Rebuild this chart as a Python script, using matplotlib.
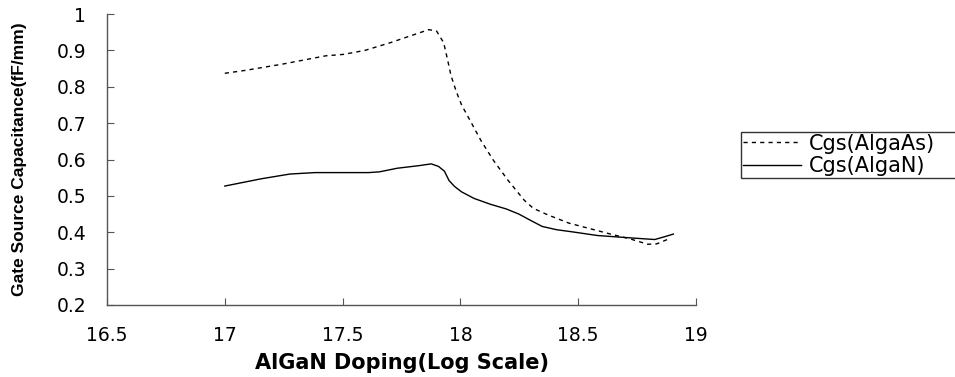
import matplotlib
matplotlib.use('Agg')
import matplotlib.pyplot as plt

# values
x_algaas = [17.0, 17.087, 17.243, 17.428, 17.504, 17.595, 17.702, 17.793, 17.866, 17.899,
            17.929, 17.945, 17.96, 17.983, 18.005, 18.043, 18.089, 18.142, 18.203, 18.271,
            18.309, 18.37, 18.461, 18.567, 18.643, 18.719, 18.795, 18.833, 18.878]
cgs_algaas = [0.837, 0.845, 0.862, 0.885, 0.889, 0.900, 0.921, 0.941, 0.957, 0.953,
              0.921, 0.876, 0.831, 0.786, 0.750, 0.705, 0.650, 0.596, 0.542, 0.488,
              0.466, 0.448, 0.425, 0.407, 0.394, 0.382, 0.367, 0.368, 0.380]

x_algan = [17.0, 17.155, 17.276, 17.383, 17.61, 17.656, 17.732, 17.823, 17.876, 17.907,
           17.932, 17.952, 17.975, 18.005, 18.058, 18.127, 18.195, 18.248, 18.294, 18.347,
           18.408, 18.476, 18.582, 18.734, 18.825, 18.863, 18.904]
cgs_algan = [0.527, 0.547, 0.560, 0.564, 0.564, 0.566, 0.576, 0.583, 0.588, 0.581,
             0.568, 0.542, 0.526, 0.511, 0.493, 0.477, 0.464, 0.450, 0.434, 0.416,
             0.407, 0.401, 0.391, 0.384, 0.380, 0.387, 0.395]

xticks = [16.5, 17, 17.5, 18, 18.5, 19]
xtick_labels = ['16.5', '17', '17.5', '18', '18.5', '19']
yticks = [0.2, 0.3, 0.4, 0.5, 0.6, 0.7, 0.8, 0.9, 1.0]
ytick_labels = ['0.2', '0.3', '0.4', '0.5', '0.6', '0.7', '0.8', '0.9', '1']

plt.rcParams['font.family'] = ['DejaVu Sans']

fig = plt.figure(figsize=(9.55, 3.77), dpi=100)
ax = fig.add_axes([107/955, 1-305/377, (696-107)/955, (305-14)/377])

ax.plot(x_algaas, cgs_algaas, color='black', lw=1.0, linestyle=(0, (3, 3)), label='Cgs(AlgaAs)')
ax.plot(x_algan, cgs_algan, color='black', lw=1.0, label='Cgs(AlgaN)')

ax.set_xlim(16.5, 19)
ax.set_ylim(0.2, 1.0)
ax.set_xticks(xticks)
ax.set_xticklabels(xtick_labels)
ax.set_yticks(yticks)
ax.set_yticklabels(ytick_labels)

for s in ['top', 'right']:
    ax.spines[s].set_visible(False)
for s in ['left', 'bottom']:
    ax.spines[s].set_color('#555555')
    ax.spines[s].set_linewidth(1.0)

ax.tick_params(axis='both', direction='in', length=5, color='#555555', labelsize=13.5)
ax.tick_params(axis='y', pad=15)
ax.tick_params(axis='x', pad=15)

ax.set_xlabel('AlGaN Doping(Log Scale)', fontsize=15, fontweight='bold')
ax.xaxis.set_label_coords(0.5, -0.2)
ax.xaxis.label.set_va('center')

ax.set_ylabel('Gate Source Capacitance(fF/mm)', fontsize=12.5, fontweight='bold',
              family=['Liberation Sans', 'DejaVu Sans'])
ax.yaxis.set_label_coords(-0.148, 0.5)
ax.yaxis.label.set_va('center')

# legend box runs off the right edge in the reference
leg = ax.legend(loc='upper left', bbox_to_anchor=(741/955, 1-187/377, 240/955, 55/377),
                bbox_transform=fig.transFigure, mode='expand', fontsize=15, frameon=True,
                fancybox=False, edgecolor='black', handlelength=2.8,
                borderpad=0.08, labelspacing=0.12, handletextpad=0.4, borderaxespad=0)
leg.get_frame().set_linewidth(1.0)

fig.savefig('out.png', dpi=100)
